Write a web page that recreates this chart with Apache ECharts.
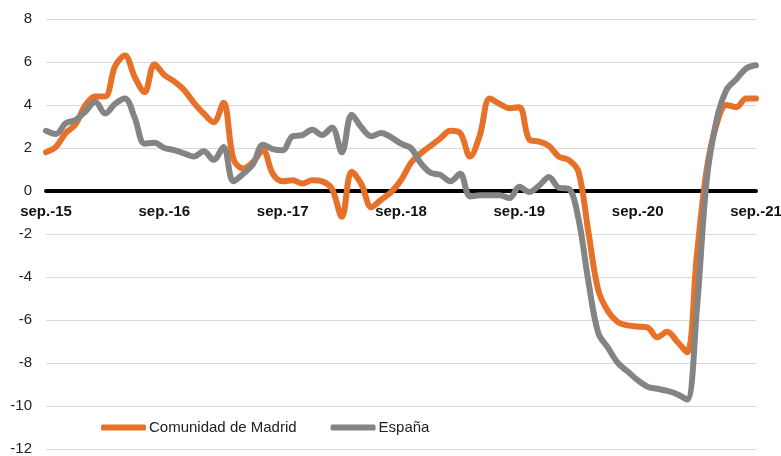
<!DOCTYPE html>
<html>
<head>
<meta charset="utf-8">
<script src="https://cdn.jsdelivr.net/npm/echarts@6/dist/echarts.min.js"></script>
<style>
  html, body { margin: 0; padding: 0; background: #fff; }
  #chart { width: 781px; height: 456px; }
</style>
</head>
<body>
<div id="chart"></div>
<script>
// monthly series, sep-2015 .. sep-2021
var monthNames = ['sep.', 'oct.', 'nov.', 'dic.', 'ene.', 'feb.', 'mar.', 'abr.', 'may.', 'jun.', 'jul.', 'ago.'];
var startYear = 15;
var yTicks = [-12, -10, -8, -6, -4, -2, 0, 2, 4, 6, 8];

var madrid = [
  1.8, 2.05, 2.7, 3.1, 4.0, 4.4, 4.4, 5.8, 6.3, 5.3, 4.6, 5.9,
  5.4, 5.1, 4.7, 4.1, 3.6, 3.2, 4.1, 1.5, 1.05, 1.35, 1.9, 0.8,
  0.45, 0.5, 0.35, 0.5, 0.45, 0.1, -1.2, 0.9, 0.3, -0.75, -0.4, -0.05,
  0.5, 1.3, 1.75, 2.1, 2.45, 2.8, 2.7, 1.6, 2.6, 4.3, 4.05, 3.85,
  3.9, 2.4, 2.3, 2.1, 1.6, 1.45, 0.9, -1.9, -4.6, -5.6, -6.1, -6.25,
  -6.3, -6.35, -6.8, -6.55, -7.0, -7.5, -3.0, 1.0, 3.1, 4.0, 3.9, 4.3,
  4.3
];

var espana = [
  2.8, 2.65, 3.15, 3.3, 3.7, 4.15, 3.6, 4.05, 4.3, 3.4, 2.2, 2.25,
  2.0, 1.9, 1.75, 1.6, 1.85, 1.45, 2.05, 0.45, 0.8, 1.25, 2.15, 1.95,
  1.9, 2.55, 2.6, 2.85, 2.6, 2.95, 1.8, 3.55, 2.95, 2.55, 2.7, 2.5,
  2.2, 2.0, 1.3, 0.85, 0.75, 0.45, 0.8, -0.25, -0.2, -0.2, -0.2, -0.33,
  0.2, -0.05, 0.25, 0.65, 0.15, 0.1, -1.3, -4.2, -6.6, -7.3, -8.0, -8.4,
  -8.8, -9.1, -9.2, -9.3, -9.45, -9.7, -5.5, 0.5, 3.3, 4.7, 5.2, 5.7,
  5.85
];

var categories = [];
for (var i = 0; i < madrid.length; i++) {
  var yr = startYear + Math.floor((i + 8) / 12);
  categories.push(monthNames[i % 12] + '-' + yr);
}

var gridTop = 19, gridBottom = 7, H = 456;
var plotH = H - gridTop - gridBottom;
// distance from bottom of plot up to the zero line
var zeroOffset = plotH * (0 - yTicks[0]) / (yTicks[yTicks.length - 1] - yTicks[0]);

var chart = echarts.init(document.getElementById('chart'));
var option = {
  animation: false,
  textStyle: { fontFamily: 'Liberation Sans, Arial, sans-serif' },
  grid: { left: 46, right: 25, top: gridTop, bottom: gridBottom, containLabel: false, outerBoundsMode: 'none' },
  legend: {
    left: 101,
    top: 420,
    padding: 0,
    itemWidth: 45,
    itemHeight: 6,
    itemGap: 34,
    icon: 'roundRect',
    textStyle: { fontSize: 15, color: '#222', padding: [0, 0, 0, -2] },
    data: ['Comunidad de Madrid', 'España']
  },
  xAxis: {
    type: 'category',
    data: categories,
    boundaryGap: false,
    position: 'bottom',
    offset: -zeroOffset,
    axisLine: { onZero: false, lineStyle: { color: '#000', width: 4 } },
    axisTick: { show: false },
    axisLabel: {
      interval: function (idx) { return idx % 12 === 0; },
      fontSize: 15,
      fontWeight: 'bold',
      color: '#111',
      margin: 13
    },
    splitLine: { show: false }
  },
  yAxis: {
    type: 'value',
    min: yTicks[0],
    max: yTicks[yTicks.length - 1],
    interval: 2,
    axisLine: { show: false },
    axisTick: { show: false },
    axisLabel: { fontSize: 15, color: '#222', margin: 14 },
    splitLine: { lineStyle: { color: '#d9d9d9', width: 1 } }
  },
  series: [
    {
      name: 'Comunidad de Madrid',
      type: 'line',
      data: madrid,
      smooth: 0.35,
      symbol: 'none',
      color: '#e8712a',
      lineStyle: { width: 6, cap: 'round', join: 'round' }
    },
    {
      name: 'España',
      type: 'line',
      data: espana,
      smooth: 0.35,
      symbol: 'none',
      color: '#848484',
      lineStyle: { width: 6, cap: 'round', join: 'round' }
    }
  ]
};
chart.setOption(option);
</script>
</body>
</html>
